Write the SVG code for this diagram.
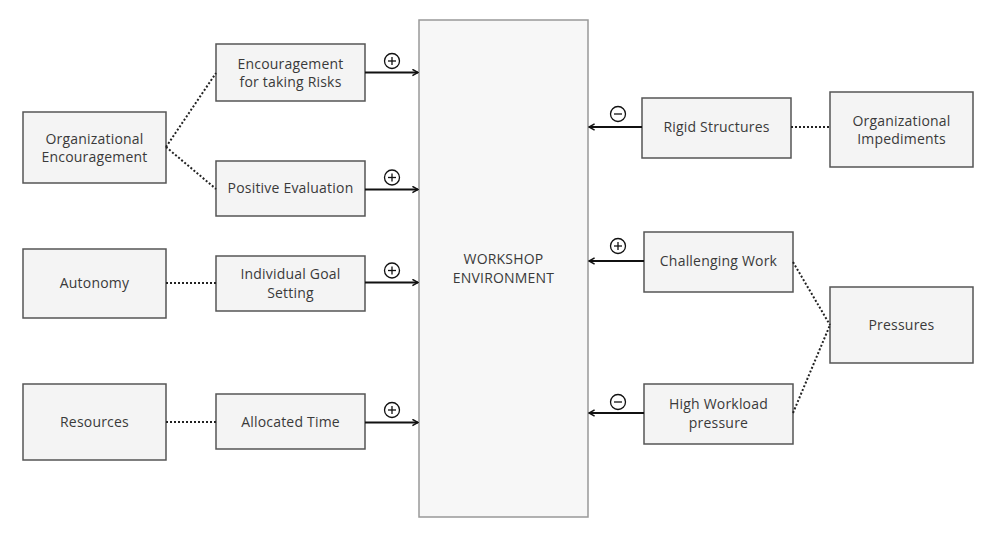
<svg xmlns="http://www.w3.org/2000/svg" width="1000" height="535" viewBox="0 0 1000 535">
<defs>
<marker id="ah" viewBox="0 0 10 10" refX="9" refY="5" markerWidth="8" markerHeight="8" orient="auto" markerUnits="userSpaceOnUse">
<path d="M2,1 L9,5 L2,9" fill="none" stroke="#111" stroke-width="1.8"/>
</marker>
<style>
.box{fill:#f4f4f4;stroke:#555;stroke-width:1.5}
.main{fill:#f7f7f7;stroke:#999;stroke-width:1.5}
text{font-family:"Open Sans","Liberation Sans",sans-serif;font-size:14px;fill:#3a3a3a;text-anchor:middle;letter-spacing:0.2px}
.arr{stroke:#111;stroke-width:2;fill:none;marker-end:url(#ah)}
.dot{stroke:#222;stroke-width:2;fill:none;stroke-dasharray:2 2}
.sgn circle{fill:#fff;stroke:#111;stroke-width:1.3}
.sgn line{stroke:#111;stroke-width:1.3}
</style>
</defs>
<rect width="1000" height="535" fill="#fff"/>
<g id="workshop"><rect class="main" x="419" y="20" width="169" height="497"/><text x="503.5" y="264">WORKSHOP</text><text x="503.5" y="283">ENVIRONMENT</text></g>
<g id="org-enc"><rect class="box" x="23" y="112" width="143" height="71"/><text x="94.5" y="144">Organizational</text><text x="94.5" y="162">Encouragement</text></g>
<g id="autonomy"><rect class="box" x="23" y="249" width="143" height="69"/><text x="94.5" y="288">Autonomy</text></g>
<g id="resources"><rect class="box" x="23" y="384" width="143" height="76"/><text x="94.5" y="427">Resources</text></g>
<g id="risks"><rect class="box" x="216" y="44" width="149" height="57"/><text x="290.5" y="69">Encouragement</text><text x="290.5" y="87">for taking Risks</text></g>
<g id="positive"><rect class="box" x="216" y="161" width="149" height="55"/><text x="290.5" y="193">Positive Evaluation</text></g>
<g id="goal"><rect class="box" x="216" y="256" width="149" height="55"/><text x="290.5" y="279">Individual Goal</text><text x="290.5" y="298">Setting</text></g>
<g id="time"><rect class="box" x="216" y="394" width="149" height="55"/><text x="290.5" y="427">Allocated Time</text></g>
<g id="rigid"><rect class="box" x="642" y="98" width="149" height="60"/><text x="716.5" y="132">Rigid Structures</text></g>
<g id="impediments"><rect class="box" x="830" y="92" width="143" height="75"/><text x="901.5" y="126">Organizational</text><text x="901.5" y="144">Impediments</text></g>
<g id="challenging"><rect class="box" x="644" y="232" width="149" height="60"/><text x="718.5" y="266">Challenging Work</text></g>
<g id="workload"><rect class="box" x="644" y="384" width="149" height="60"/><text x="718.5" y="409">High Workload</text><text x="718.5" y="428">pressure</text></g>
<g id="pressures"><rect class="box" x="830" y="287" width="143" height="76"/><text x="901.5" y="330">Pressures</text></g>
<g id="connectors">
<line class="dot" x1="166" y1="147" x2="216" y2="73"/>
<line class="dot" x1="166" y1="147" x2="216" y2="189"/>
<line class="dot" x1="166" y1="283" x2="216" y2="283"/>
<line class="dot" x1="166" y1="422" x2="216" y2="422"/>
<line class="dot" x1="791" y1="127" x2="830" y2="127"/>
<line class="dot" x1="793" y1="262" x2="830" y2="325"/>
<line class="dot" x1="793" y1="413" x2="830" y2="325"/>
<line class="arr" x1="365" y1="72.5" x2="418" y2="72.5"/>
<line class="arr" x1="365" y1="189.5" x2="418" y2="189.5"/>
<line class="arr" x1="365" y1="282.5" x2="418" y2="282.5"/>
<line class="arr" x1="365" y1="422.5" x2="418" y2="422.5"/>
<line class="arr" x1="642" y1="127" x2="589" y2="127"/>
<line class="arr" x1="644" y1="261" x2="589" y2="261"/>
<line class="arr" x1="644" y1="413" x2="589" y2="413"/>
<g class="sgn"><circle cx="392" cy="61" r="7.5"/><line x1="388" y1="61" x2="396" y2="61"/><line x1="392" y1="57" x2="392" y2="65"/></g>
<g class="sgn"><circle cx="392" cy="177.5" r="7.5"/><line x1="388" y1="177.5" x2="396" y2="177.5"/><line x1="392" y1="173.5" x2="392" y2="181.5"/></g>
<g class="sgn"><circle cx="392" cy="270.5" r="7.5"/><line x1="388" y1="270.5" x2="396" y2="270.5"/><line x1="392" y1="266.5" x2="392" y2="274.5"/></g>
<g class="sgn"><circle cx="392" cy="410" r="7.5"/><line x1="388" y1="410" x2="396" y2="410"/><line x1="392" y1="406" x2="392" y2="414"/></g>
<g class="sgn"><circle cx="618" cy="114" r="7.5"/><line x1="614" y1="114" x2="622" y2="114"/></g>
<g class="sgn"><circle cx="618" cy="246" r="7.5"/><line x1="614" y1="246" x2="622" y2="246"/><line x1="618" y1="242" x2="618" y2="250"/></g>
<g class="sgn"><circle cx="618" cy="402" r="7.5"/><line x1="614" y1="402" x2="622" y2="402"/></g>
</g>
</svg>
